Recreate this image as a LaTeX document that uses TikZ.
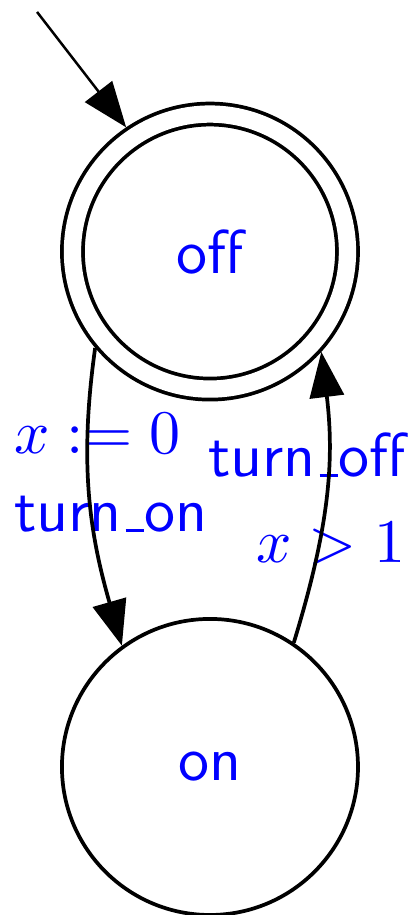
\documentclass[tikz,border=0pt]{standalone}
\usetikzlibrary{arrows.meta}

\newcommand{\uscore}{\kern.06em\vbox{\hrule width.3em}}

\begin{document}
\begin{tikzpicture}[
        state box/.style={
            draw,
            circle,
            line width=0.6pt,
            minimum size=47.74pt,
            inner sep=0pt,
            text=blue,
            font=\sffamily
        },
        double box/.style={
            state box,
            double,
            double distance=2.79pt,
            minimum size=44.35pt,
            outer sep=1.995pt
        },
        edge label/.style={
            anchor=base west,
            inner sep=0pt,
            text=blue,
            font=\sffamily
        },
        >={Triangle[length=7.3pt,width=5.5pt]}
    ]
        \useasboundingbox (0,0) rectangle (2.369,5.186);

        \node[double box] (off) at (1.190,3.760) {off};
        \node[state box] (on) at (1.190,0.839) {on};
        \coordinate (start) at (0.210,5.118);

        \node[edge label] (reset) at (0.074,2.613) {$x := 0$};
        \node[edge label] (turnon) at (0.074,2.171) {turn\uscore on};
        \node[edge label] (turnoff) at (1.173,2.483) {turn\uscore off};
        \node[edge label] (guard) at (1.445,1.995) {$x > 1$};

        \draw[->, thin] (start) -- (off.124);
        \draw[->, line width=0.6pt] (off.220) to[out=262, in=106] (on.126);
        \draw[->, line width=0.6pt] (on.56) to[out=73, in=277] (off.318);
    \end{tikzpicture}
\end{document}
